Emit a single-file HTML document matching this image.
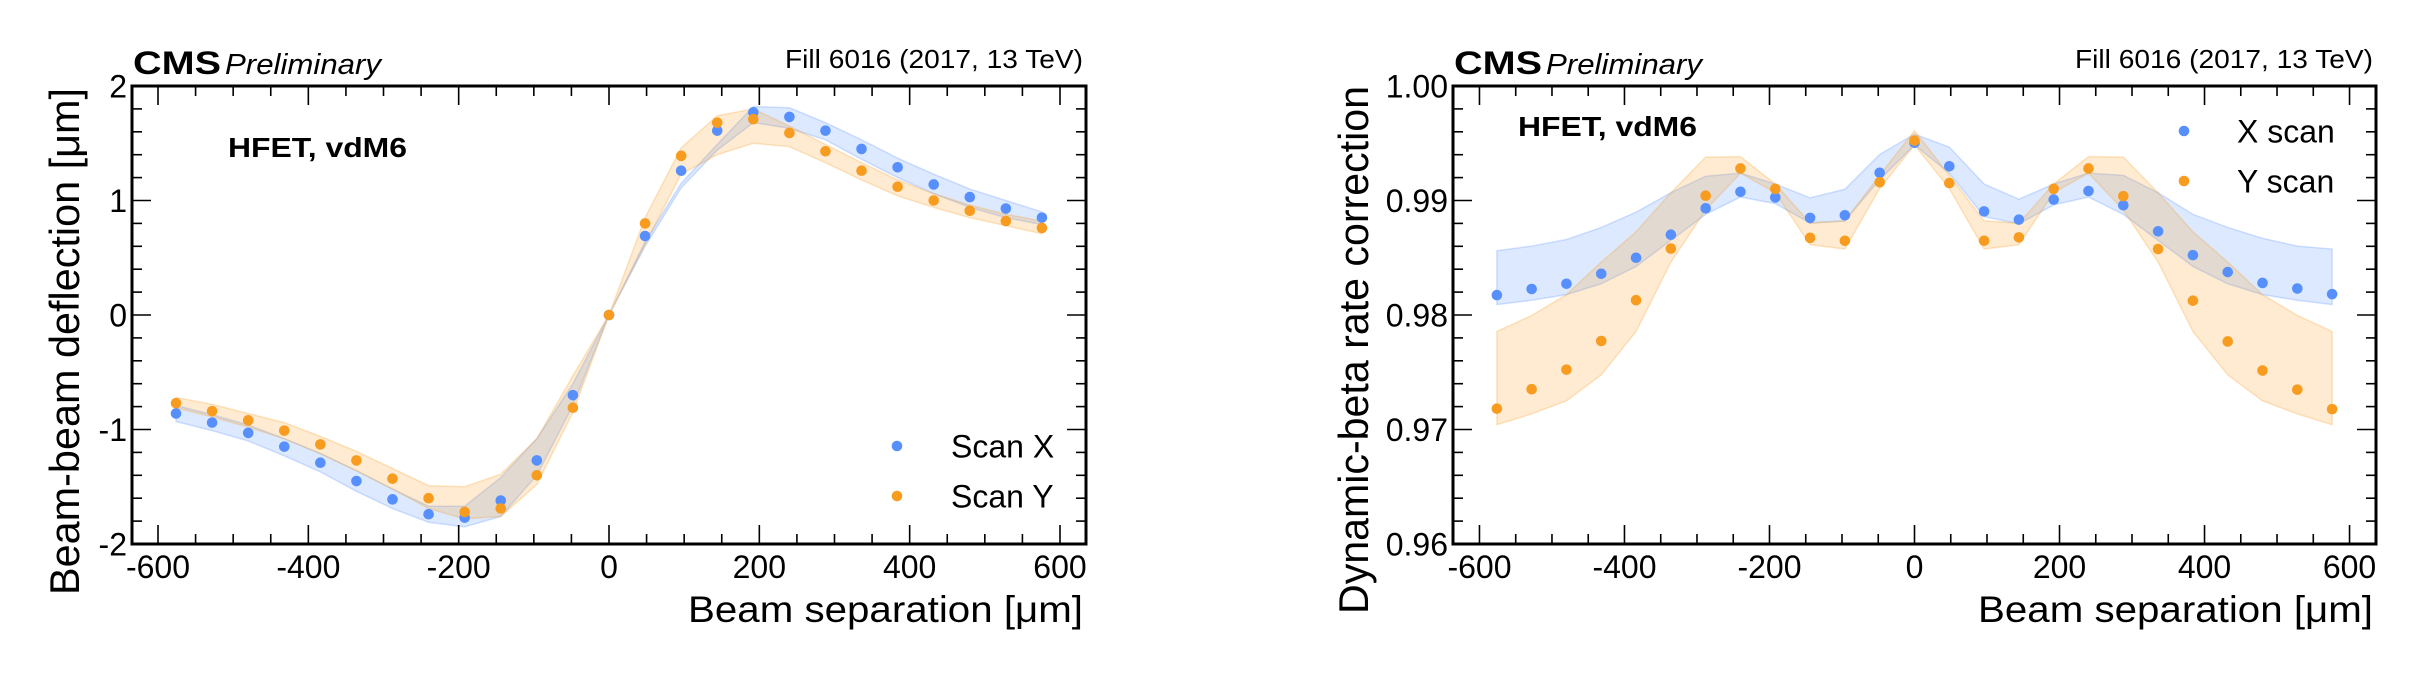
<!DOCTYPE html>
<html><head><meta charset="utf-8"><style>
html,body{margin:0;padding:0;background:#fff}
svg{display:block}
text{font-family:"Liberation Sans",sans-serif;fill:#000}
</style></head><body>
<svg id="svg" width="2425" height="681" xmlns="http://www.w3.org/2000/svg"></svg>
<script>
const xs = [-576,-528,-480,-432,-384,-336,-288,-240,-192,-144,-96,-48,0,48,96,144,192,240,288,336,384,432,480,528,576];
const leftX = [-0.86,-0.94,-1.03,-1.15,-1.29,-1.45,-1.61,-1.74,-1.77,-1.62,-1.27,-0.70,0,0.69,1.26,1.61,1.77,1.73,1.61,1.45,1.29,1.14,1.03,0.93,0.85];
const leftY = [-0.77,-0.84,-0.92,-1.01,-1.13,-1.27,-1.43,-1.60,-1.72,-1.69,-1.40,-0.81,0,0.80,1.39,1.68,1.71,1.59,1.43,1.26,1.12,1.00,0.91,0.82,0.76];
const leftXHi = [-0.79,-0.87,-0.96,-1.08,-1.21,-1.36,-1.52,-1.67,-1.67,-1.42,-1.08,-0.60,0,0.64,1.15,1.49,1.82,1.81,1.68,1.53,1.37,1.23,1.10,1.00,0.90];
const leftXLo = [-0.93,-1.01,-1.10,-1.23,-1.37,-1.54,-1.69,-1.81,-1.85,-1.76,-1.40,-0.79,0,0.60,1.11,1.44,1.68,1.63,1.53,1.36,1.20,1.06,0.94,0.85,0.79];
const leftYHi = [-0.72,-0.78,-0.86,-0.94,-1.06,-1.19,-1.34,-1.49,-1.50,-1.39,-1.08,-0.53,0,0.85,1.46,1.74,1.80,1.65,1.49,1.33,1.18,1.06,0.96,0.88,0.82];
const leftYLo = [-0.81,-0.89,-0.98,-1.08,-1.21,-1.36,-1.52,-1.69,-1.78,-1.76,-1.48,-0.85,0,0.62,1.23,1.40,1.50,1.47,1.33,1.18,1.04,0.94,0.85,0.78,0.71];
const rightX = [0.98174,0.98227,0.98273,0.98360,0.98500,0.98701,0.98932,0.99076,0.99027,0.98848,0.98871,0.99242,0.99504,0.99299,0.98905,0.98833,0.99008,0.99083,0.98958,0.98731,0.98523,0.98375,0.98280,0.98231,0.98182];
const rightY = [0.97182,0.97352,0.97523,0.97773,0.98129,0.98580,0.99042,0.99280,0.99102,0.98674,0.98648,0.99159,0.99523,0.99152,0.98648,0.98678,0.99102,0.99280,0.99038,0.98576,0.98125,0.97769,0.97515,0.97348,0.97178];
const rightXHi = [0.98561,0.98602,0.98659,0.98765,0.98898,0.99068,0.99212,0.99239,0.99144,0.99023,0.99098,0.99402,0.99580,0.99466,0.99144,0.99011,0.99144,0.99239,0.99220,0.99068,0.98879,0.98765,0.98670,0.98602,0.98576];
const rightXLo = [0.98091,0.98129,0.98178,0.98273,0.98424,0.98652,0.98879,0.99030,0.98973,0.98803,0.98822,0.99182,0.99485,0.99239,0.98860,0.98795,0.98962,0.99030,0.98879,0.98652,0.98424,0.98273,0.98178,0.98129,0.98091];
const rightYHi = [0.97856,0.97996,0.98178,0.98462,0.98727,0.99068,0.99379,0.99383,0.99144,0.98803,0.98822,0.99220,0.99610,0.99220,0.98822,0.98803,0.99144,0.99383,0.99379,0.99068,0.98727,0.98462,0.98178,0.97996,0.97856];
const rightYLo = [0.97042,0.97136,0.97250,0.97477,0.97856,0.98462,0.98917,0.99239,0.99068,0.98614,0.98576,0.99106,0.99485,0.99106,0.98576,0.98614,0.99068,0.99239,0.98917,0.98462,0.97856,0.97477,0.97250,0.97136,0.97042];
const xTicks = [-600,-400,-200,0,200,400,600];
const leftYTicks = [-2,-1,0,1,2];
const rightYTicks = [0.96,0.97,0.98,0.99,1.00];

const NS="http://www.w3.org/2000/svg";
const svg=document.getElementById('svg');
function mk(tag,attrs,parent){const e=document.createElementNS(NS,tag);for(const k in attrs)e.setAttribute(k,attrs[k]);(parent||svg).appendChild(e);return e;}
const BLUE="#5790fc", ORANGE="#f89c20";

function panel(cfg){
  const g=mk('g',{});
  
  
  const {L,R,T,B,xmin,xmax,ymin,ymax}=cfg;
  const X=v=>L+(v-xmin)/(xmax-xmin)*(R-L);
  const Y=v=>B-(v-ymin)/(ymax-ymin)*(B-T);
  function band(lo,hi,col,nm){
    let d='M'+xs.map((x,i)=>X(x)+','+Y(hi[i])).join(' L');
    for(let i=xs.length-1;i>=0;i--) d+=' L'+X(xs[i])+','+Y(lo[i]);
    d+='Z';
    const p=mk('path',{d:d,fill:col,'fill-opacity':0.2,stroke:col,'stroke-opacity':0.25,'stroke-width':1.5},g);
    
    
  }
  band(cfg.xLo,cfg.xHi,BLUE,'x-scan-band');
  band(cfg.yLo,cfg.yHi,ORANGE,'y-scan-band');
  const tk=mk('g',{stroke:'#000','stroke-width':1.6},g);
  
  
  for(let v=-600;v<=600;v+=50){
    const major=v%200===0;const len=major?19:10;const x=X(v);
    mk('line',{x1:x,x2:x,y1:B,y2:B-len},tk);mk('line',{x1:x,x2:x,y1:T,y2:T+len},tk);
  }
  const nMinor=cfg.yMinor;
  for(let k=0;k<=Math.round((ymax-ymin)/nMinor);k++){
    const v=ymin+k*nMinor;const major=k%5===0;const len=major?19:10;const y=Y(v);
    mk('line',{x1:L,x2:L+len,y1:y,y2:y},tk);mk('line',{x1:R,x2:R-len,y1:y,y2:y},tk);
  }
  const fr=mk('rect',{x:L,y:T,width:R-L,height:B-T,fill:'none',stroke:'#000','stroke-width':3},g);
  
  
  xTicks.forEach(v=>{const t=mk('text',{x:X(v),y:578,'font-size':32,'text-anchor':'middle'},g);t.textContent=String(v);
    
    });
  cfg.yTicks.forEach(v=>{const t=mk('text',{x:L-5,y:Y(v)+11.5,'font-size':32,'text-anchor':'end'},g);t.textContent=cfg.fmt(v);
    
    });
  function pts(arr,col,nm){xs.forEach((x,i)=>{const c=mk('ellipse',{cx:X(x),cy:Y(arr[i]),rx:5.3,ry:5.3,fill:col},g);
    
    });}
  pts(cfg.xv,BLUE,'x-scan-point');
  pts(cfg.yv,ORANGE,'y-scan-point');
  const t1=mk('text',{x:L+1,y:74,'font-size':32,'font-weight':'bold',textLength:88,lengthAdjust:'spacingAndGlyphs'},g);t1.textContent='CMS';
  
  const t2=mk('text',{x:L+93,y:74,'font-size':29,'font-style':'italic',textLength:156,lengthAdjust:'spacingAndGlyphs'},g);t2.textContent='Preliminary';
  
  const t3=mk('text',{x:R-3,y:68,'font-size':26,'text-anchor':'end',textLength:298,lengthAdjust:'spacingAndGlyphs'},g);t3.textContent='Fill 6016 (2017, 13 TeV)';
  
  const t4=mk('text',{x:cfg.hx,y:cfg.hy,'font-size':28,'font-weight':'bold',textLength:179,lengthAdjust:'spacingAndGlyphs'},g);t4.textContent='HFET, vdM6';
  
  const t5=mk('text',{x:R-3,y:622,'font-size':37,'text-anchor':'end',textLength:395,lengthAdjust:'spacingAndGlyphs'},g);t5.textContent='Beam separation [μm]';
  
  const t6=mk('text',{x:0,y:0,'font-size':42,'text-anchor':'end',textLength:cfg.ylen,lengthAdjust:'spacingAndGlyphs',transform:'translate('+cfg.ytx+','+cfg.yty+') rotate(-90)'},g);t6.textContent=cfg.ytitle;
  
  cfg.leg.forEach((lg,i)=>{
    const c=mk('ellipse',{cx:lg.mx,cy:lg.y,rx:5.3,ry:5.3,fill:lg.col},g);
    
    const t=mk('text',{x:lg.tx,y:lg.y+11.5,'font-size':32},g);t.textContent=lg.label;
    
  });
}
panel({name:'left-panel',L:132,R:1086,T:86,B:544,xmin:-634.6,xmax:634.6,ymin:-2,ymax:2,yMinor:0.2,
  xv:leftX,yv:leftY,xHi:leftXHi,xLo:leftXLo,yHi:leftYHi,yLo:leftYLo,yTicks:leftYTicks,fmt:v=>String(v),
  hx:228,hy:157,ytx:79,yty:88,ylen:507,ytitle:'Beam-beam deflection [μm]',
  leg:[{mx:897,tx:951,y:446,col:BLUE,label:'Scan X'},{mx:897,tx:951,y:496,col:ORANGE,label:'Scan Y'}]});
panel({name:'right-panel',L:1453,R:2376,T:86,B:544,xmin:-636.5,xmax:636.5,ymin:0.96,ymax:1.00,yMinor:0.002,
  xv:rightX,yv:rightY,xHi:rightXHi,xLo:rightXLo,yHi:rightYHi,yLo:rightYLo,yTicks:rightYTicks,fmt:v=>v.toFixed(2),
  hx:1518,hy:136,ytx:1368,yty:86,ylen:528,ytitle:'Dynamic-beta rate correction',
  leg:[{mx:2184,tx:2237,y:131,col:BLUE,label:'X scan'},{mx:2184,tx:2237,y:181,col:ORANGE,label:'Y scan'}]});
</script>
</body></html>
